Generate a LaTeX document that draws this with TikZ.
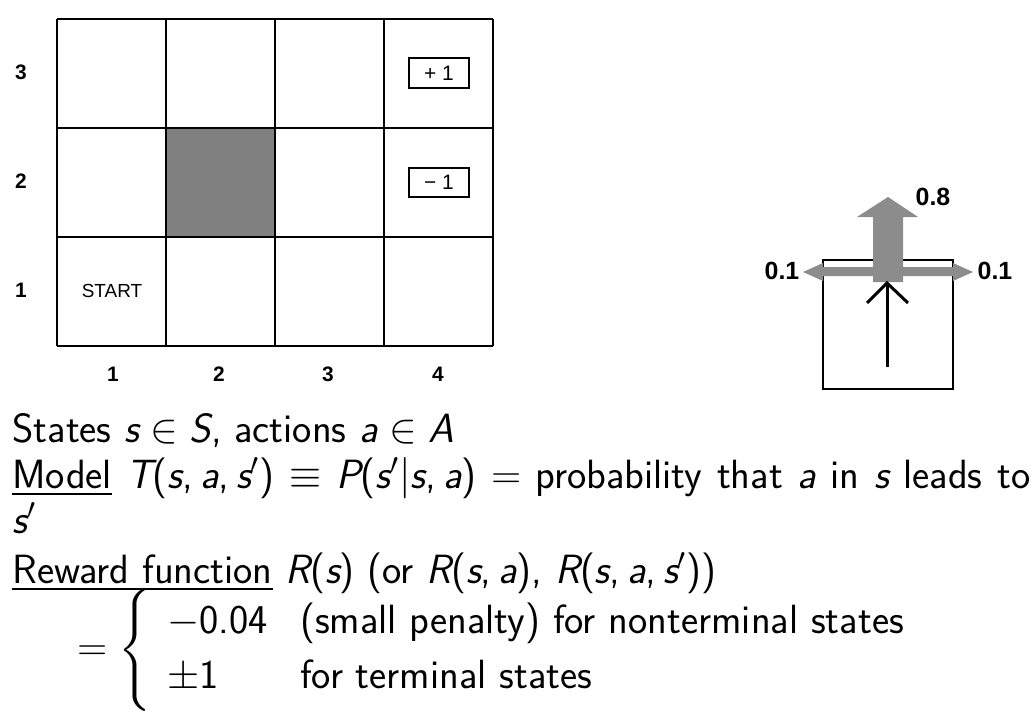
\documentclass[tikz,border=0pt]{standalone}
\usepackage{amsmath}
\usepackage{amssymb}
\usepackage[no-math]{fontspec}
\usepackage{tikz}
\usetikzlibrary{arrows.meta}
\newfontfamily\helv{Liberation Sans}

% sans-serif math letters and digits, as on the slides
\DeclareSymbolFont{sfitalic}{TU}{lmss}{m}{sl}
\DeclareSymbolFont{sfupright}{TU}{lmss}{m}{n}
\DeclareMathSymbol{s}{\mathalpha}{sfitalic}{`s}
\DeclareMathSymbol{a}{\mathalpha}{sfitalic}{`a}
\DeclareMathSymbol{S}{\mathalpha}{sfitalic}{`S}
\DeclareMathSymbol{A}{\mathalpha}{sfitalic}{`A}
\DeclareMathSymbol{T}{\mathalpha}{sfitalic}{`T}
\DeclareMathSymbol{P}{\mathalpha}{sfitalic}{`P}
\DeclareMathSymbol{R}{\mathalpha}{sfitalic}{`R}
\DeclareMathSymbol{0}{\mathalpha}{sfupright}{`0}
\DeclareMathSymbol{1}{\mathalpha}{sfupright}{`1}
\DeclareMathSymbol{4}{\mathalpha}{sfupright}{`4}
\DeclareMathSymbol{.}{\mathord}{sfupright}{`.}
\DeclareMathSymbol{,}{\mathpunct}{sfupright}{`,}
\DeclareMathSymbol{(}{\mathopen}{sfupright}{`(}
\DeclareMathSymbol{)}{\mathclose}{sfupright}{`)}

\definecolor{probgray}{gray}{0.55}
\tikzset{
  gridline/.style={line width=1.1bp,black},
  axislabel/.style={font=\helv\bfseries\fontsize{10.5}{11}\selectfont},
  termbox/.style={draw,line width=1bp,minimum width=30bp,minimum height=14.5bp,inner sep=0pt,font=\helv\fontsize{10.5}{11}\selectfont},
  problabel/.style={font=\helv\bfseries\fontsize{12.5}{13}\selectfont},
  slidetext/.style={anchor=base west,inner sep=0pt,font=\sffamily\fontsize{20.5}{24}\selectfont}
}

\begin{document}
\begin{tikzpicture}[x=0.5bp,y=-0.5bp,line join=miter]
\useasboundingbox (0,0) rectangle (1035,713);
%% grid world
\fill[gray] (166,128) rectangle (275,237);
\foreach \i in {0,...,4} \draw[gridline] (57+109*\i,19) -- (57+109*\i,346);
\foreach \j in {0,...,3} \draw[gridline] (57,19+109*\j) -- (493,19+109*\j);
\foreach \n/\y in {3/72,2/181,1/290}
  \node[axislabel] (row_\n) at (21,\y) {\n};
\foreach \n/\x in {1/113,2/219,3/328,4/438}
  \node[axislabel] (col_\n) at (\x,374) {\n};
\node (start) at (112,291) [font=\helv\fontsize{9.5}{10}\selectfont] {START};
\node[termbox] (plus_one) at (439,73) {+\ 1};
\node[termbox] (minus_one) at (439,182) {\char"2212\ 1};
%% transition model
\draw[line width=0.8bp] (823,260) rectangle (953,389);
\fill[probgray] (803,272) -- (823,263) -- (823,267) -- (953,267) -- (953,263)
  -- (973,272) -- (953,281) -- (953,276) -- (823,276) -- (823,281) -- cycle;
\fill[probgray] (873,282) -- (873,217) -- (857,217) -- (888,197) -- (918,217)
  -- (903,217) -- (903,282) -- cycle;
\coordinate (act_tail) at (887,367);
\coordinate (act_head) at (887,283);
\draw[line width=1.5bp] (act_tail) -- (act_head);
\draw[line width=1.5bp,line join=miter] (867,303) -- (act_head) -- (908,303);
\node[problabel] (p_fwd) at (933,197) {0.8};
\node[problabel] (p_left) at (782,271) {0.1};
\node[problabel] (p_right) at (995,271) {0.1};
%% definitions
\node[slidetext] (states) at (12,442) {States $s\in S$, actions $a\in A$};
\node[slidetext] (model) at (12,488) {\makebox[509bp][s]{\underline{Model} $T(s,a,s')\equiv P(s'|s,a) =$ probability that $a$ in $s$ leads to}};
\node[slidetext] (model_wrap) at (12,533) {$s'$};
\node[slidetext] (reward) at (12,583) {\underline{Reward function} $R(s)$ (or $R(s,a)$, $R(s,a,s')$)};
\node[slidetext,anchor=west] (reward_cases) at (77,650) {$= \left\{\hspace{0.38em}\def\arraystretch{1.15}\begin{array}{@{}l@{\hspace{0.8em}}l@{}} -0.04 & \text{(small penalty) for nonterminal states}\\ \pm 1 & \text{for terminal states} \end{array}\right.$};
%
\end{tikzpicture}
\end{document}
